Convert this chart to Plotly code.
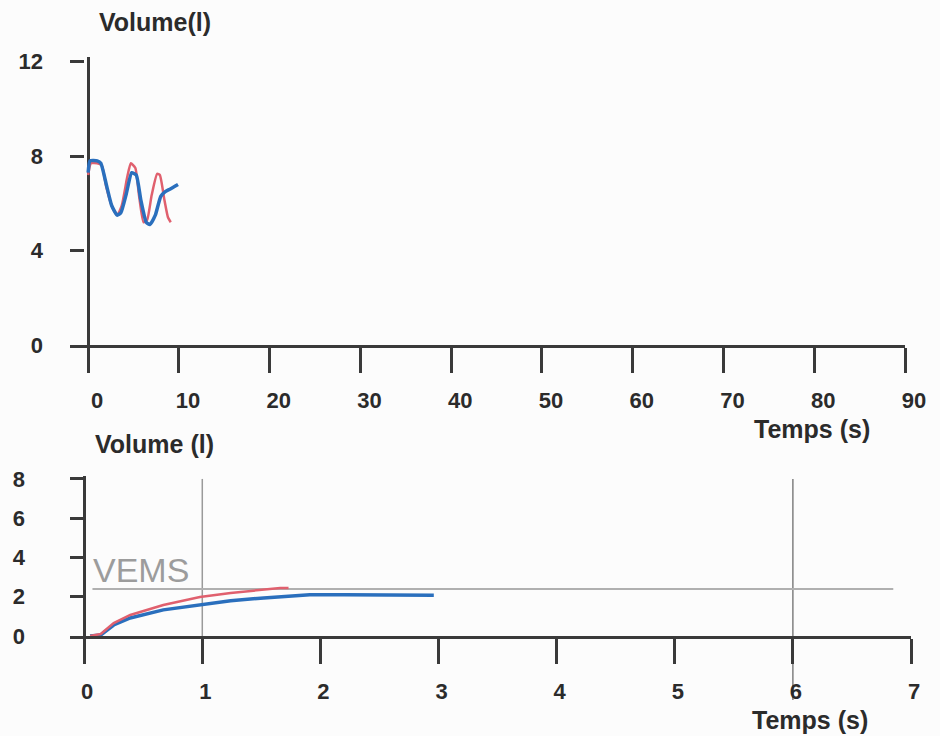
import plotly.graph_objects as go

# --- Spirometry recordings -------------------------------------------------
# Top panel: tidal breathing volume (l) over time (s)
t_tidal_blue = [0.0, 0.2, 1.0, 1.4, 2.0, 2.6, 3.2, 3.6, 4.2, 4.8, 5.3, 5.8,
                6.4, 6.8, 7.4, 8.0, 8.5, 9.0, 9.9]
v_tidal_blue = [7.3, 7.8, 7.8, 7.7, 6.8, 5.9, 5.5, 5.6, 6.4, 7.3, 7.2, 6.15,
                5.2, 5.1, 5.5, 6.3, 6.5, 6.6, 6.8]
t_tidal_red = [0.0, 0.3, 1.0, 1.5, 2.0, 2.6, 3.2, 3.7, 4.3, 4.7, 5.2, 5.6,
               6.1, 6.5, 7.0, 7.6, 7.9, 8.4, 8.8, 9.1]
v_tidal_red = [7.2, 7.7, 7.7, 7.6, 6.7, 5.9, 5.5, 5.9, 7.1, 7.7, 7.5, 6.35,
               5.2, 5.3, 6.35, 7.25, 7.2, 6.15, 5.4, 5.2]

# Bottom panel: forced expiration volume (l) over time (s)
t_forced_blue = [0.05, 0.14, 0.25, 0.39, 0.67, 0.98, 1.24, 1.52, 1.80, 1.91,
                 2.2, 2.6, 2.96]
v_forced_blue = [0.0, 0.05, 0.56, 0.92, 1.33, 1.58, 1.79, 1.94, 2.08, 2.1,
                 2.1, 2.08, 2.08]
t_forced_red = [0.05, 0.14, 0.25, 0.39, 0.67, 0.98, 1.24, 1.52, 1.66, 1.73]
v_forced_red = [0.0, 0.1, 0.66, 1.07, 1.58, 1.99, 2.19, 2.35, 2.45, 2.45]

vems_level = 2.4
marker_times = [1, 6]

top_xticks = [0, 10, 20, 30, 40, 50, 60, 70, 80, 90]
top_yticks = [0, 4, 8, 12]
bottom_xticks = [0, 1, 2, 3, 4, 5, 6, 7]
bottom_yticks = [0, 2, 4, 6, 8]

# --- Styling ---------------------------------------------------------------
W, H = 940, 736
FONT = "Liberation Sans"
INK = "#2b2b2b"
AXIS = "#3a3a3a"
BLUE = "#2a6fbd"
RED = "#e0606e"


def px_x(p):
    return p / W


def px_y(p):
    return 1 - p / H


fig = go.Figure()

fig.add_trace(go.Scatter(x=t_tidal_red, y=v_tidal_red, mode="lines",
                         line=dict(color=RED, width=2.5, shape="spline", smoothing=0.5),
                         xaxis="x", yaxis="y", showlegend=False))
fig.add_trace(go.Scatter(x=t_tidal_blue, y=v_tidal_blue, mode="lines",
                         line=dict(color=BLUE, width=3.5, shape="spline", smoothing=0.5),
                         xaxis="x", yaxis="y", showlegend=False))
fig.add_trace(go.Scatter(x=t_forced_blue, y=v_forced_blue, mode="lines",
                         line=dict(color=BLUE, width=3.5),
                         xaxis="x2", yaxis="y2", showlegend=False))
fig.add_trace(go.Scatter(x=t_forced_red, y=v_forced_red, mode="lines",
                         line=dict(color=RED, width=2.5),
                         xaxis="x2", yaxis="y2", showlegend=False))

tick_font = dict(family=FONT, size=22, color=INK, weight="bold")

common_x = dict(showgrid=False, showline=True, linecolor=AXIS, linewidth=3,
                zeroline=True, zerolinecolor=AXIS, zerolinewidth=3,
                ticks="outside", tickcolor=AXIS, tickwidth=3, ticklen=25,
                tickfont=tick_font, ticklabelstandoff=9, automargin=False,
                fixedrange=True)
common_y = dict(showgrid=False, showline=False, zeroline=False,
                ticks="inside", tickcolor=AXIS, tickwidth=2.5, ticklen=14,
                tickfont=tick_font, automargin=False, fixedrange=True)

fig.update_layout(
    width=W, height=H,
    margin=dict(l=0, r=0, t=0, b=0, pad=0, autoexpand=False),
    paper_bgcolor="#fcfcfc", plot_bgcolor="rgba(0,0,0,0)",
    font=dict(family=FONT, color=INK),
    xaxis=dict(common_x, domain=[px_x(70), px_x(905)], range=[-2, 90],
               tickvals=top_xticks, ticklabelshift=9, anchor="y"),
    yaxis=dict(common_y, domain=[px_y(345), px_y(57)], range=[0, 12.2],
               tickvals=top_yticks, ticklabelstandoff=26, anchor="x"),
    xaxis2=dict(common_x, domain=[px_x(70), px_x(911)], range=[-0.12, 7],
                tickvals=bottom_xticks, ticklabelshift=3, anchor="y2"),
    yaxis2=dict(common_y, domain=[px_y(636), px_y(476)], range=[0, 8.15],
                tickvals=bottom_yticks, ticklabelstandoff=44, anchor="x2"),
)

# Reference lines on the forced-expiration panel
fig.add_shape(type="line", xref="x2", yref="y2", x0=marker_times[0], x1=marker_times[0],
              y0=0, y1=8.0, line=dict(color="#9a9a9a", width=1.5), layer="below")
fig.add_shape(type="line", xref="x2", yref="paper", x0=marker_times[1], x1=marker_times[1],
              y0=px_y(700), y1=px_y(479), line=dict(color="#808080", width=1.5), layer="below")
fig.add_shape(type="line", xref="x2", yref="y2", x0=0.07, x1=6.85,
              y0=vems_level, y1=vems_level, line=dict(color="#b0b0b0", width=2), layer="below")

annotations = [
    dict(text="Volume(l)", x=px_x(155), y=px_y(22)),
    dict(text="Temps (s)", x=px_x(812), y=px_y(429)),
    dict(text="Volume (l)", x=px_x(154), y=px_y(444)),
    dict(text="Temps (s)", x=px_x(810), y=px_y(720)),
]
for a in annotations:
    fig.add_annotation(text=a["text"], x=a["x"], y=a["y"], xref="paper", yref="paper",
                       showarrow=False, xanchor="center", yanchor="middle",
                       font=dict(family=FONT, size=25, color=INK, weight="bold"))

fig.add_annotation(text="VEMS", xref="x2", yref="y2", x=0.06, y=3.35,
                   xanchor="left", yanchor="middle", showarrow=False,
                   font=dict(family=FONT, size=34, color="#9c9c9c"))

fig.write_html("out.html")
